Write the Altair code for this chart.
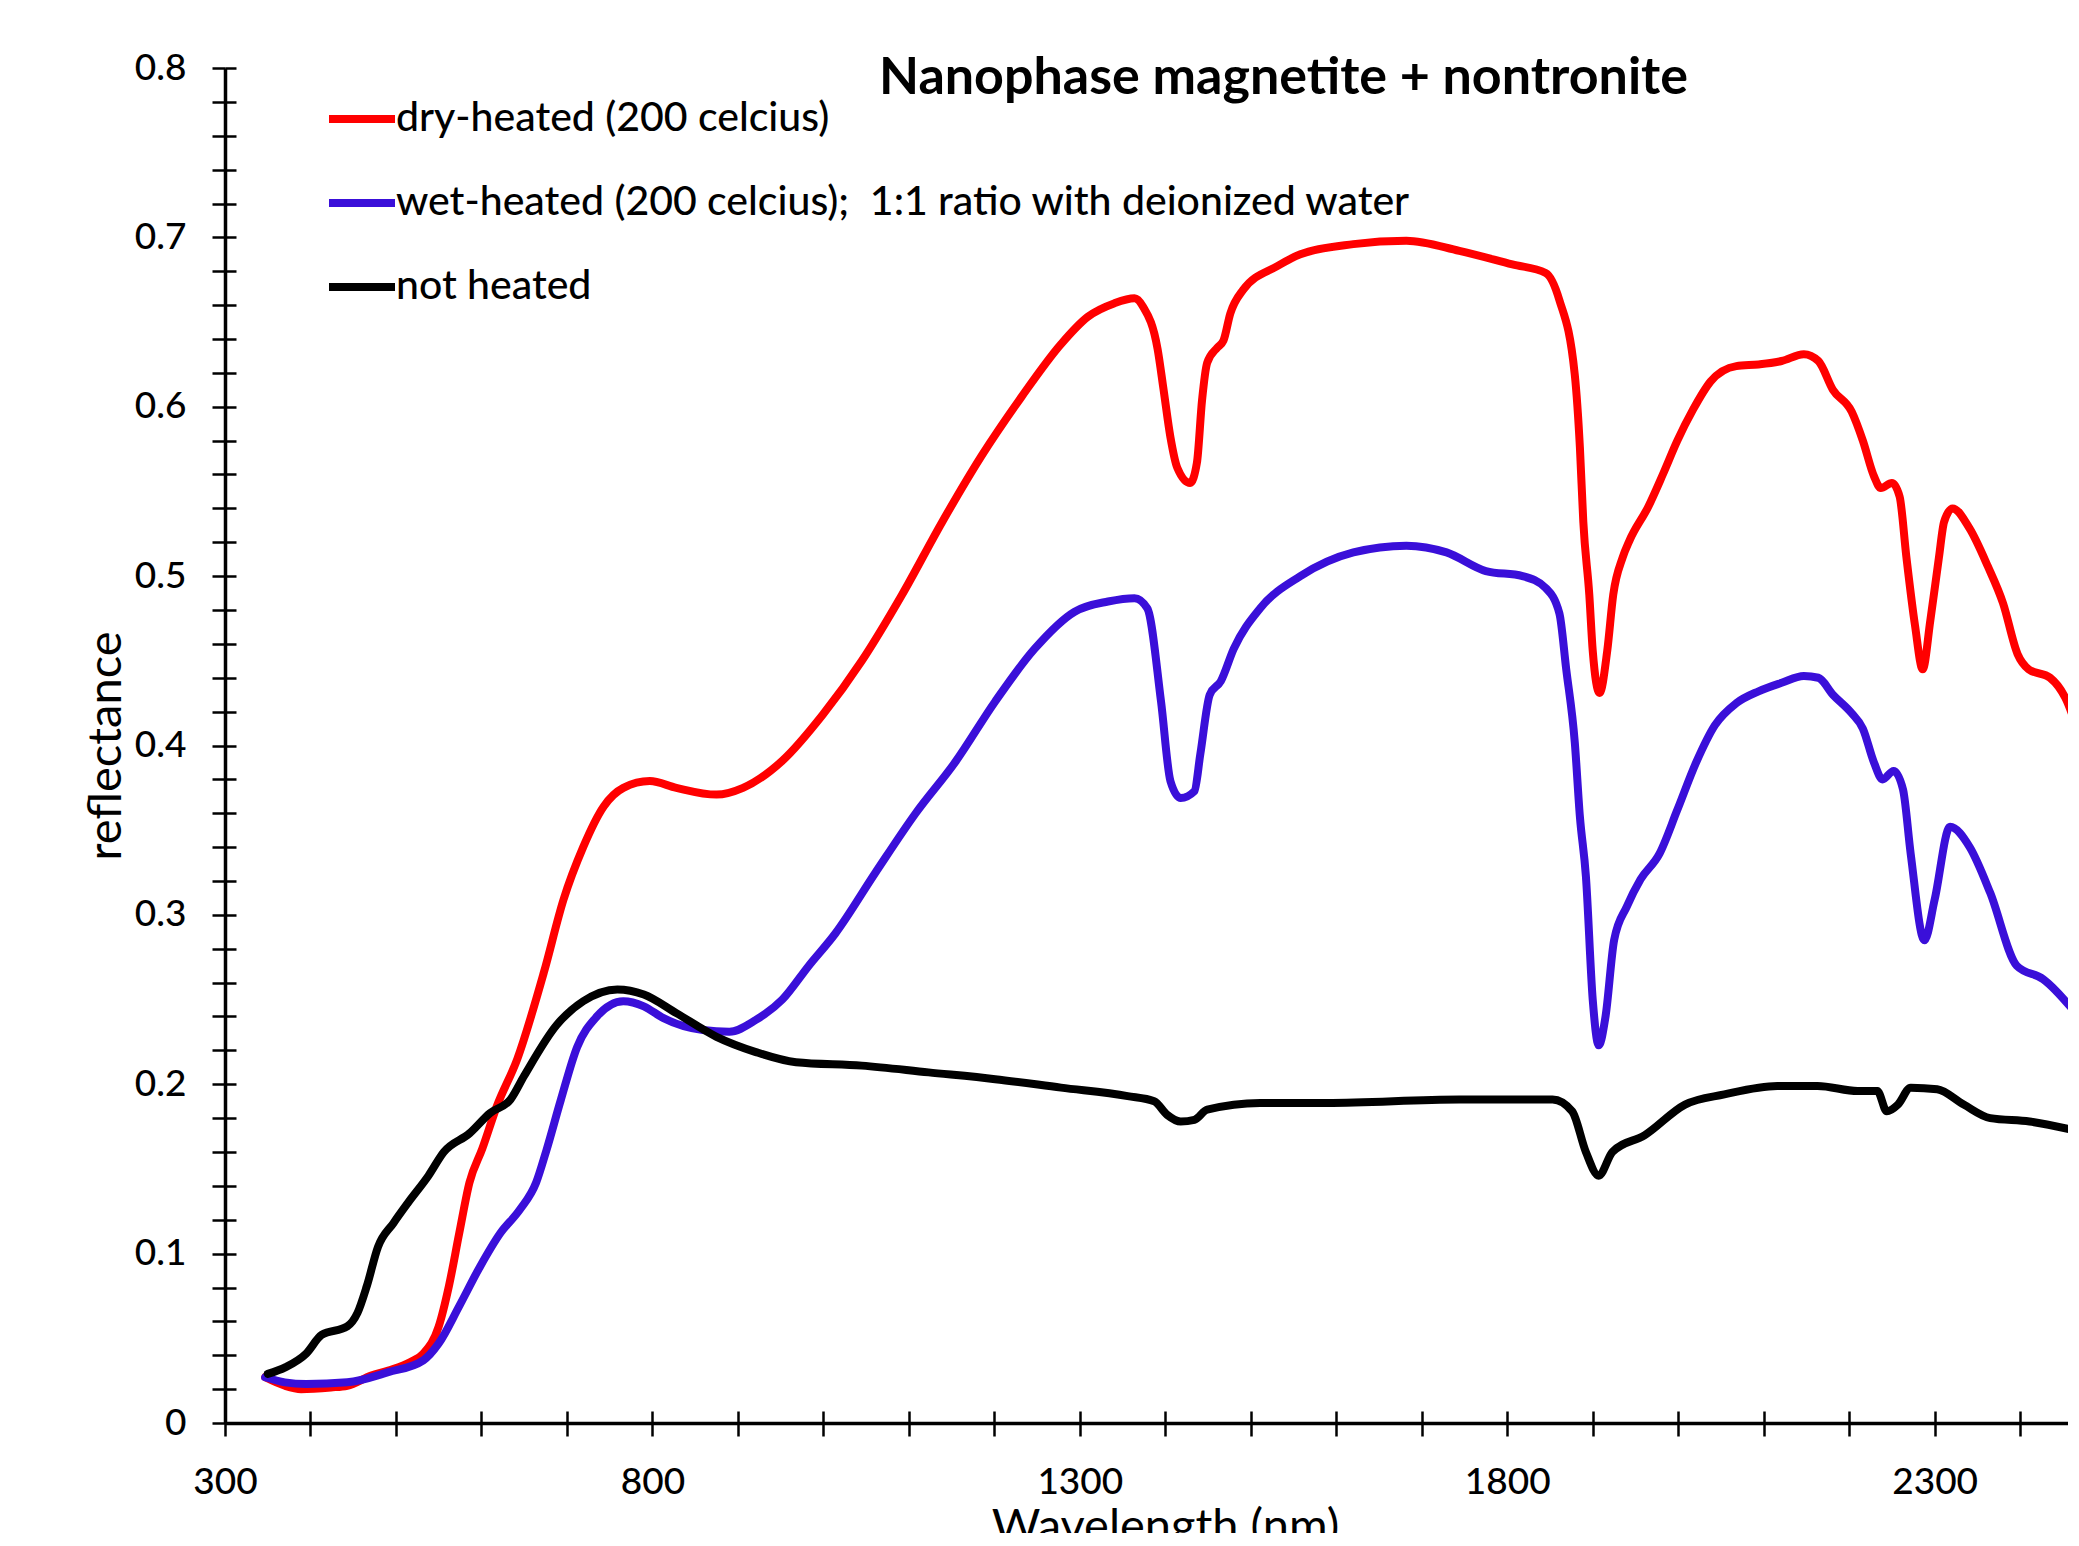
import altair as alt
import pandas as pd

# ---- data ----
dry_nm = [347, 370, 389, 424, 443, 471, 491, 517, 532, 550, 562, 574, 586, 601, 618, 642, 673, 696, 719, 743,
          766, 797, 828, 875, 906, 952, 999, 1045, 1092, 1139, 1185, 1232, 1278, 1309, 1340, 1364, 1374, 1391,
          1398, 1406, 1414, 1429, 1437, 1443, 1449, 1461, 1468, 1476, 1491, 1531, 1558, 1620, 1682, 1744, 1806,
          1845, 1861, 1879, 1885, 1889, 1896, 1900, 1908, 1917, 1924, 1935, 1943, 1965, 1982, 1999, 2017, 2038,
          2068, 2094, 2121, 2147, 2164, 2181, 2203, 2216, 2229, 2237, 2250, 2259, 2267, 2277, 2286, 2295, 2305,
          2311, 2321, 2341, 2362, 2380, 2397, 2410, 2435, 2453, 2470]
dry_val = [0.027, 0.022, 0.020, 0.021, 0.022, 0.028, 0.031, 0.036, 0.041, 0.057, 0.081, 0.112, 0.142, 0.162,
           0.187, 0.215, 0.266, 0.309, 0.340, 0.364, 0.375, 0.379, 0.375, 0.371, 0.375, 0.391, 0.418, 0.450,
           0.489, 0.532, 0.571, 0.606, 0.637, 0.653, 0.661, 0.664, 0.659, 0.634, 0.610, 0.582, 0.564, 0.555,
           0.567, 0.604, 0.626, 0.635, 0.639, 0.655, 0.669, 0.683, 0.690, 0.696, 0.698, 0.692, 0.684, 0.679,
           0.663, 0.619, 0.576, 0.532, 0.489, 0.456, 0.431, 0.456, 0.489, 0.511, 0.521, 0.541, 0.560, 0.580,
           0.598, 0.615, 0.624, 0.625, 0.627, 0.631, 0.627, 0.610, 0.597, 0.580, 0.559, 0.552, 0.555, 0.547,
           0.511, 0.471, 0.445, 0.474, 0.511, 0.532, 0.540, 0.528, 0.506, 0.484, 0.454, 0.445, 0.440, 0.428,
           0.405]

wet_nm = [347, 370, 395, 443, 491, 532, 550, 574, 598, 622, 645, 664, 676, 693, 712, 735, 766, 790, 813, 859,
          890, 921, 952, 983, 1014, 1061, 1108, 1154, 1201, 1247, 1294, 1333, 1364, 1379, 1395, 1406, 1418, 1434,
          1441, 1452, 1465, 1480, 1511, 1558, 1620, 1682, 1729, 1775, 1818, 1845, 1861, 1869, 1879, 1885, 1892,
          1900, 1907, 1915, 1925, 1940, 1956, 1978, 1999, 2021, 2043, 2068, 2094, 2121, 2147, 2164, 2181, 2203,
          2216, 2229, 2239, 2252, 2263, 2272, 2288, 2300, 2318, 2341, 2365, 2396, 2427, 2470]
wet_val = [0.027, 0.024, 0.023, 0.024, 0.030, 0.037, 0.047, 0.069, 0.092, 0.112, 0.126, 0.142, 0.161, 0.191,
           0.222, 0.240, 0.249, 0.246, 0.239, 0.232, 0.231, 0.238, 0.250, 0.270, 0.289, 0.325, 0.360, 0.390,
           0.426, 0.457, 0.479, 0.485, 0.487, 0.481, 0.426, 0.379, 0.369, 0.373, 0.395, 0.430, 0.438, 0.457,
           0.481, 0.500, 0.514, 0.518, 0.514, 0.503, 0.500, 0.493, 0.478, 0.445, 0.402, 0.358, 0.323, 0.250,
           0.223, 0.240, 0.285, 0.305, 0.321, 0.336, 0.362, 0.390, 0.412, 0.425, 0.432, 0.437, 0.441, 0.440,
           0.430, 0.419, 0.410, 0.390, 0.380, 0.385, 0.374, 0.336, 0.285, 0.309, 0.352, 0.340, 0.313, 0.270,
           0.262, 0.239]

raw_nm = [350, 371, 395, 413, 443, 455, 466, 479, 497, 514, 538, 556, 586, 610, 634, 650, 688, 719, 759, 790,
          828, 875, 921, 968, 1045, 1123, 1201, 1278, 1356, 1387, 1402, 1418, 1434, 1449, 1511, 1589, 1744, 1853,
          1876, 1892, 1907, 1923, 1961, 2008, 2054, 2116, 2163, 2210, 2233, 2244, 2257, 2272, 2303, 2334, 2365,
          2411, 2470]
raw_val = [0.029, 0.033, 0.041, 0.052, 0.057, 0.065, 0.081, 0.104, 0.118, 0.130, 0.146, 0.160, 0.171, 0.183,
           0.191, 0.205, 0.235, 0.249, 0.256, 0.253, 0.242, 0.228, 0.219, 0.213, 0.211, 0.207, 0.203, 0.198,
           0.193, 0.190, 0.182, 0.178, 0.179, 0.185, 0.189, 0.189, 0.191, 0.191, 0.184, 0.160, 0.146, 0.160,
           0.170, 0.188, 0.194, 0.199, 0.199, 0.196, 0.196, 0.184, 0.188, 0.198, 0.197, 0.188, 0.180, 0.178,
           0.172]

series_names = ["dry-heated (200 celcius)",
                "wet-heated (200 celcius); \u00a01:1 ratio with deionized water",
                "not heated"]
series_colors = ["#FF0000", "#3A0FD9", "#000000"]

x_ticks = list(range(300, 2500, 100))
y_ticks = [round(i * 0.02, 2) for i in range(41)]

rows = []
for name, xs, ys in [(series_names[0], dry_nm, dry_val),
                     (series_names[1], wet_nm, wet_val),
                     (series_names[2], raw_nm, raw_val)]:
    for i, (a, b) in enumerate(zip(xs, ys)):
        rows.append({"series": name, "nm": a, "refl": b, "i": i})
df = pd.DataFrame(rows)

FONT = "Lato"
W, H = 1843, 1355

x_scale = alt.Scale(domain=[300, 2456], nice=False, zero=False)
y_scale = alt.Scale(domain=[0, 0.8], nice=False)

color = alt.Color(
    "series:N",
    scale=alt.Scale(domain=series_names, range=series_colors),
    legend=alt.Legend(
        orient="none", legendX=100, legendY=14, title=None,
        symbolType="stroke", symbolSize=4356, symbolStrokeWidth=8,
        labelFontSize=41, labelFont=FONT, labelFontWeight=500, labelColor="#000000",
        labelOffset={"expr": "-3"},
        rowPadding=27, labelLimit=0, padding=0,
    ),
)

main = alt.Chart(df).mark_line(strokeWidth=8, strokeCap="round", strokeJoin="round",
                               interpolate="monotone", clip=True).encode(
    x=alt.X("nm:Q", scale=x_scale,
            axis=alt.Axis(orient="bottom", values=x_ticks, format="d",
                          labelExpr="(datum.value - 300) % 500 == 0 ? datum.label : ''",
                          tickSize=13, tickWidth=2.5, tickColor="#000000",
                          domainColor="#000000", domainWidth=3.5,
                          labelFont=FONT, labelFontSize=37, labelFontWeight=500, labelColor="#000000",
                          labelPadding=28, labelBaseline="top", labelFlush=False,
                          grid=False, title="Wavelength (nm)",
                          titleFont=FONT, titleFontSize=47, titleFontWeight="normal",
                          titleColor="#000000", titleX=940, titleY=118,
                          titleAlign="center", titleBaseline="alphabetic", titleAngle=0)),
    y=alt.Y("refl:Q", scale=y_scale,
            axis=alt.Axis(orient="left", values=y_ticks, format="~g",
                          labelExpr="round(datum.value * 100) % 10 == 0 ? datum.label : ''",
                          tickSize=13, tickWidth=2.5, tickColor="#000000",
                          domainColor="#000000", domainWidth=3.5,
                          labelFont=FONT, labelFontSize=37, labelFontWeight=500, labelColor="#000000",
                          labelPadding=26, labelFlush=False,
                          grid=False, title="reflectance",
                          titleFont=FONT, titleFontSize=47, titleFontWeight="normal",
                          titleColor="#000000", titleX=-119, titleY=H / 2,
                          titleAlign="center", titleBaseline="middle", titleAngle=270)),
    color=color,
    order="i:Q",
)

inner = alt.Chart(df).mark_line(opacity=0, clip=True).encode(
    x=alt.X("nm:Q", scale=x_scale,
            axis=alt.Axis(orient="bottom", values=x_ticks, labels=False, domain=False,
                          offset=-12, tickSize=12, tickWidth=2.5, tickColor="#000000",
                          grid=False, title=None)),
    y=alt.Y("refl:Q", scale=y_scale,
            axis=alt.Axis(orient="left", values=y_ticks, labels=False, domain=False,
                          offset=-11, tickSize=11, tickWidth=2.5, tickColor="#000000",
                          grid=False, title=None)),
    detail="series:N",
)

chart = alt.layer(main, inner).resolve_axis(x="independent", y="independent").properties(
    width=W, height=H,
    autosize=alt.AutoSizeParams(type="none"),
    padding={"left": 217, "top": 60, "right": 0, "bottom": 110},
    background="white",
    title=alt.TitleParams("Nanophase magnetite + nontronite", font=FONT, fontSize=52,
                          fontWeight="bold", color="#000000", anchor="middle",
                          dx=137, dy=101, baseline="alphabetic"),
).configure_view(stroke=None)

chart.save("out.html", embed_options={"renderer": "svg", "actions": False})
